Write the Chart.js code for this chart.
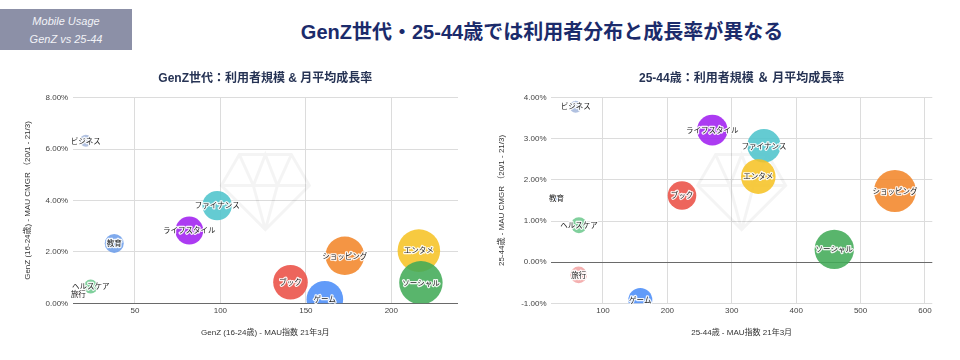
<!DOCTYPE html>
<html>
<head>
<meta charset="utf-8">
<script src="https://cdn.jsdelivr.net/npm/chart.js@4.4.1/dist/chart.umd.min.js"></script>
<style>
  body { margin: 0; width: 960px; height: 360px; background: #fff; position: relative; overflow: hidden;
         font-family: "Liberation Sans", "Noto Sans CJK JP", sans-serif; }
  #tag { position: absolute; left: 0; top: 9px; width: 132px; height: 41px; background: #8c90a7; color: #f2f3f7;
         font-style: italic; font-size: 11px; line-height: 18px; text-align: center; padding-top: 3px; box-sizing: border-box; }
  #headline { position: absolute; left: 542px; top: 20px; transform: translateX(-50%); white-space: nowrap;
              font-size: 20px; line-height: 24px; font-weight: bold; color: #1b2b6b; }
  .box { position: absolute; top: 60px; width: 480px; height: 300px; }
</style>
</head>
<body>
<div id="tag">Mobile Usage<br>GenZ vs 25-44</div>
<div id="headline">GenZ世代・25-44歳では利用者分布と成長率が異なる</div>
<div class="box" style="left:0"><canvas id="genzChart"></canvas></div>
<div class="box" style="left:480px"><canvas id="adultChart"></canvas></div>
<script>
// categories (same order in both charts)
const categories = ["ビジネス", "教育", "ヘルスケア", "旅行", "ライフスタイル", "ファイナンス", "ブック", "ゲーム", "ショッピング", "エンタメ", "ソーシャル"];

// GenZ (16-24)
const genzMau = [21.3, 37.9, 24.1, 16.8, 81.8, 98.1, 141, 161.1, 172.8, 216.1, 217.3];
const genzCmgr = [6.32, 2.33, 0.65, 0.37, 2.83, 3.8, 0.82, 0.16, 1.85, 2.05, 0.8];
const genzBubble = [6, 9.5, 7, 3, 14, 14.7, 17.3, 18.3, 19.3, 21.3, 21.7];
const genzXRange = [13.6, 239];
const genzYRange = [0, 8];
const genzXTicks = [50, 100, 150, 200];
const genzYTicks = [0, 2, 4, 6, 8];

// 25-44
const adultMau = [57.6, 28, 62.7, 62.2, 269.8, 350, 222.7, 158, 553.4, 341.2, 459.2];
const adultCmgr = [3.78, 1.55, 0.9, -0.31, 3.21, 2.83, 1.62, -0.92, 1.73, 2.08, 0.31];
const adultBubble = [6, 2, 8, 8.3, 15.3, 16.7, 14.3, 12, 21, 17.3, 19.7];
const adultXRange = [19.3, 611.4];
const adultYRange = [-1, 4];
const adultXTicks = [100, 200, 300, 400, 500, 600];
const adultYTicks = [-1, 0, 1, 2, 3, 4];

const bubbleColors = ["#a6b8dc", "#6d9eeb", "#6fc98f", "#f2a5a5", "#a020f0", "#4ec4cc",
  "#ea5045", "#4b8df8", "#f3862a", "#f6c326", "#42ab58"];

Chart.defaults.font.family = '"Liberation Sans", "Noto Sans CJK JP", sans-serif';

// faint gem watermark
const gemMark = {
  id: "gemMark",
  beforeDatasetsDraw(chart) {
    const { ctx, chartArea } = chart;
    const cx = (chartArea.left + chartArea.right) / 2;
    const t = chartArea.top + 57, m = chartArea.top + 88, b = chartArea.top + 132;
    ctx.save();
    ctx.strokeStyle = "rgba(0,0,0,0.045)";
    ctx.lineWidth = 3;
    ctx.beginPath();
    ctx.moveTo(cx - 26, t); ctx.lineTo(cx + 26, t); ctx.lineTo(cx + 44, m);
    ctx.lineTo(cx, b); ctx.lineTo(cx - 44, m); ctx.closePath();
    ctx.moveTo(cx - 44, m); ctx.lineTo(cx + 44, m);
    ctx.moveTo(cx - 26, t); ctx.lineTo(cx - 12, m); ctx.lineTo(cx, b);
    ctx.moveTo(cx + 26, t); ctx.lineTo(cx + 12, m); ctx.lineTo(cx, b);
    ctx.moveTo(cx - 12, m); ctx.lineTo(cx, t); ctx.lineTo(cx + 12, m);
    ctx.stroke();
    ctx.restore();
  },
};

// category names on the bubbles
const bubbleLabels = {
  id: "bubbleLabels",
  afterDatasetsDraw(chart) {
    const { ctx } = chart;
    const meta = chart.getDatasetMeta(0);
    ctx.save();
    ctx.font = '7.5px "Noto Sans CJK JP", sans-serif';
    ctx.textAlign = "center";
    ctx.textBaseline = "middle";
    ctx.lineJoin = "round";
    meta.data.forEach(function (pt, i) {
      ctx.strokeStyle = "rgba(255,255,255,0.9)";
      ctx.lineWidth = 2.5;
      ctx.strokeText(categories[i], pt.x, pt.y);
      ctx.fillStyle = "#222";
      ctx.fillText(categories[i], pt.x, pt.y);
    });
    ctx.restore();
  },
};

function renderBubbleChart(id, opts) {
  return new Chart(document.getElementById(id), {
    type: "bubble",
    data: {
      datasets: [
        {
          data: opts.xs.map((x, i) => ({ x: x, y: opts.ys[i], r: opts.sizes[i] })),
          backgroundColor: bubbleColors.map((c) => c + "e0"),
          borderWidth: 0,
        },
      ],
    },
    options: {
      responsive: true,
      maintainAspectRatio: false,
      animation: false,
      layout: { padding: { left: 0, right: opts.padRight, top: 0, bottom: 0 } },
      plugins: {
        legend: { display: false },
        tooltip: { enabled: false },
        title: {
          display: true,
          text: opts.title,
          fullSize: false,
          color: "#263354",
          font: { size: 12, weight: "bold" },
          padding: { top: 11, bottom: 12.2 },
        },
      },
      scales: {
        x: {
          type: "linear",
          min: opts.xRange[0],
          max: opts.xRange[1],
          afterBuildTicks: (scale) => { scale.ticks = opts.xTicks.map((v) => ({ value: v })); },
          afterFit: (scale) => { scale.height = 56.7; },
          border: { display: false },
          grid: { color: "#dcdcdc", drawTicks: false },
          ticks: { color: "#444", font: { size: 8 }, padding: 3 },
          title: { display: true, text: opts.xTitle, color: "#333", font: { size: 8 }, padding: { top: 0, bottom: 22 } },
        },
        y: {
          min: opts.yRange[0],
          max: opts.yRange[1],
          afterBuildTicks: (scale) => { scale.ticks = opts.yTicks.map((v) => ({ value: v })); },
          afterFit: (scale) => { scale.width = opts.yWidth; },
          border: { display: false },
          grid: {
            drawTicks: false,
            color: (c) => (c.tick && c.tick.value === 0 ? "#6a6a6a" : "#dcdcdc"),
          },
          ticks: {
            color: "#444",
            font: { size: 8 },
            padding: 4.5,
            callback: (v) => v.toFixed(2) + "%",
          },
          title: { display: true, text: opts.yTitle, color: "#333", font: { size: 8 }, padding: { top: opts.yTitlePad, bottom: 0 } },
        },
      },
    },
    plugins: [gemMark, bubbleLabels],
  });
}

renderBubbleChart("genzChart", {
  title: "GenZ世代：利用者規模 & 月平均成長率",
  xs: genzMau, ys: genzCmgr, sizes: genzBubble,
  xRange: genzXRange, yRange: genzYRange, xTicks: genzXTicks, yTicks: genzYTicks,
  xTitle: "GenZ (16-24歳) - MAU指数 21年3月",
  yTitle: "GenZ (16-24歳) - MAU CMGR （20/1 - 21/3)",
  yWidth: 72.7, padRight: 22, yTitlePad: 23.3,
});

renderBubbleChart("adultChart", {
  title: "25-44歳：利用者規模 ＆ 月平均成長率",
  xs: adultMau, ys: adultCmgr, sizes: adultBubble,
  xRange: adultXRange, yRange: adultYRange, xTicks: adultXTicks, yTicks: adultYTicks,
  xTitle: "25-44歳 - MAU指数 21年3月",
  yTitle: "25-44歳 - MAU CMGR （20/1 - 21/3)",
  yWidth: 71, padRight: 27.7, yTitlePad: 17.3,
});
</script>
</body>
</html>
